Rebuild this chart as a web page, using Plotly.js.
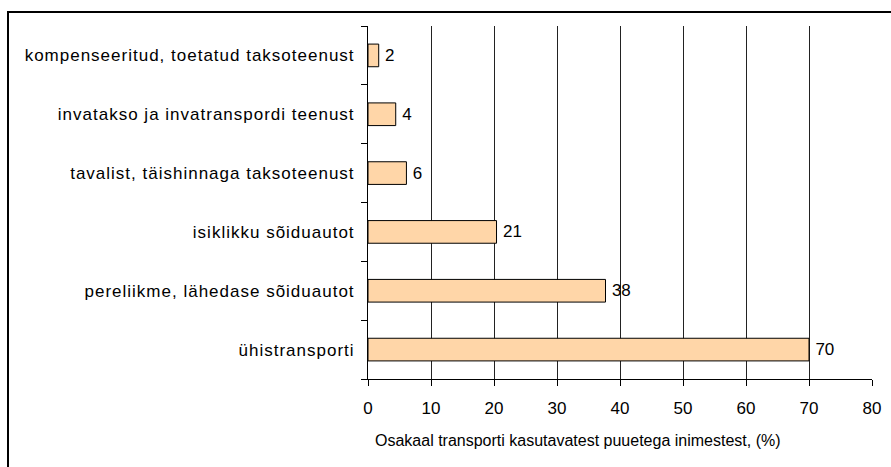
<!DOCTYPE html>
<html>
<head>
<meta charset="utf-8">
<script src="https://cdn.plot.ly/plotly-3.0.1.min.js"></script>
<style>
  html, body { margin: 0; padding: 0; background: #fff; }
  #frame {
    position: absolute; left: 7px; top: 11px; width: 900px; height: 470px;
    border-left: 2px solid #000; border-top: 2px solid #000;
    pointer-events: none; z-index: 5;
  }
  #chart { width: 891px; height: 467px; }
  /* the source chart spaces its category labels a bit wider */
  #chart .ytick text { letter-spacing: 1px; }
</style>
</head>
<body>
<div id="frame"></div>
<div id="chart"></div>
<script>
// categories from bottom to top (Plotly draws the first one at the bottom)
var categories = [
    'ühistransporti',
    'pereliikme, lähedase sõiduautot',
    'isiklikku sõiduautot',
    'tavalist, täishinnaga taksoteenust',
    'invatakso ja invatranspordi teenust',
    'kompenseeritud, toetatud taksoteenust'
];
// bar lengths, labels as printed
var shares = [70.0, 37.7, 20.4, 6.1, 4.4, 1.7];
var shareLabels = ['70', '38', '21', '6', '4', '2'];
var xTicks = [0, 10, 20, 30, 40, 50, 60, 70, 80];
var xTitle = 'Osakaal transporti kasutavatest puuetega inimestest, (%)';

var bars = {
    type: 'bar',
    orientation: 'h',
    y: categories,
    x: shares,
    // thin space so the label sits a little off the bar end
    text: shareLabels.map(function (s) { return '\u2009' + s; }),
    textposition: 'outside',
    cliponaxis: false,
    textfont: {family: 'Liberation Sans, Arial, sans-serif', size: 17, color: '#000'},
    marker: {color: '#FFD6A8', line: {color: '#000', width: 1}},
    hoverinfo: 'skip'
};

var layout = {
    width: 891,
    height: 467,
    margin: {l: 368, r: 19, t: 26, b: 88},
    paper_bgcolor: '#fff',
    plot_bgcolor: '#fff',
    bargap: 0.615,
    showlegend: false,
    font: {family: 'Liberation Sans, Arial, sans-serif', size: 17, color: '#000'},
    xaxis: {
        range: [0, 80],
        tickvals: xTicks,
        ticks: 'outside',
        ticklen: 6,
        tickcolor: '#000',
        showgrid: true,
        gridcolor: '#222',
        gridwidth: 1,
        zeroline: false,
        showline: true,
        linecolor: '#000',
        linewidth: 1,
        tickfont: {size: 17},
        ticklabelstandoff: 8,
        fixedrange: true
    },
    yaxis: {
        type: 'category',
        ticks: 'outside',
        tickson: 'boundaries',
        ticklen: 6,
        tickcolor: '#000',
        showgrid: false,
        showline: true,
        linecolor: '#000',
        linewidth: 1,
        tickfont: {size: 17},
        ticklabelstandoff: 9,
        fixedrange: true
    },
    // the axis title sits left of centre in the source, so it is placed as an annotation
    annotations: [{
        text: xTitle,
        xref: 'paper', yref: 'paper',
        x: 0.417, y: -0.173,
        xanchor: 'center', yanchor: 'middle',
        showarrow: false,
        font: {size: 16}
    }]
};

Plotly.newPlot('chart', [bars], layout, {displayModeBar: false, staticPlot: true});
</script>
</body>
</html>
